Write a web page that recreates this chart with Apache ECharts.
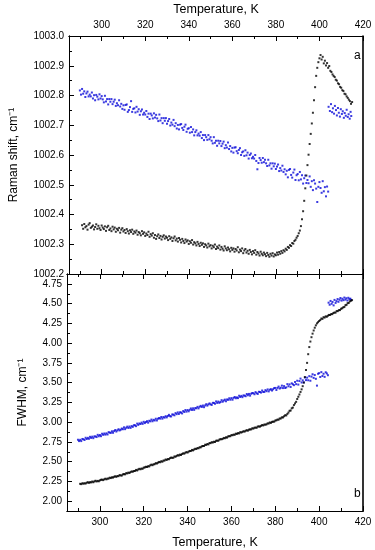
<!DOCTYPE html>
<html><head><meta charset="utf-8">
<script src="https://cdn.jsdelivr.net/npm/echarts@6/dist/echarts.min.js"></script>
<style>html,body{margin:0;padding:0;background:#fff}#c{width:375px;height:550px}</style>
</head><body><div id="c"></div>
<script>
// Temperature sampling (K) of each measured series
const tStep = 0.5;
const ramanBlackStart = 291;
const ramanBlueStart = 290;
const fwhmBlackStart = 291;
const fwhmBlueStart = 290;

// Raman shift (cm-1), black series, 291 ... 415 K (rows of 5 K)
const ramanBlack = [
/*291*/1002.364,1002.352,1002.368,1002.357,1002.361,1002.349,1002.366,1002.371,1002.355,1002.359,
/*296*/1002.363,1002.350,1002.358,1002.367,1002.352,1002.362,1002.354,1002.348,1002.363,1002.356,
/*301*/1002.351,1002.360,1002.345,1002.357,1002.362,1002.348,1002.353,1002.344,1002.359,1002.350,
/*306*/1002.356,1002.342,1002.352,1002.347,1002.355,1002.339,1002.349,1002.354,1002.343,1002.348,
/*311*/1002.338,1002.351,1002.344,1002.336,1002.347,1002.341,1002.349,1002.335,1002.343,1002.339,
/*316*/1002.346,1002.332,1002.341,1002.337,1002.330,1002.344,1002.335,1002.340,1002.328,1002.336,
/*321*/1002.331,1002.342,1002.325,1002.334,1002.329,1002.337,1002.322,1002.331,1002.318,1002.327,
/*326*/1002.333,1002.321,1002.328,1002.316,1002.325,1002.330,1002.319,1002.326,1002.322,1002.314,
/*331*/1002.327,1002.318,1002.323,1002.311,1002.320,1002.326,1002.313,1002.319,1002.309,1002.321,
/*336*/1002.315,1002.306,1002.318,1002.311,1002.304,1002.316,1002.309,1002.313,1002.301,1002.310,
/*341*/1002.305,1002.314,1002.299,1002.307,1002.303,1002.296,1002.308,1002.301,1002.294,1002.305,
/*346*/1002.298,1002.303,1002.291,1002.300,1002.296,1002.289,1002.302,1002.293,1002.297,1002.286,
/*351*/1002.295,1002.290,1002.299,1002.284,1002.292,1002.287,1002.296,1002.282,1002.291,1002.285,
/*356*/1002.279,1002.293,1002.286,1002.280,1002.289,1002.283,1002.276,1002.288,1002.281,1002.286,
/*361*/1002.275,1002.284,1002.279,1002.290,1002.273,1002.282,1002.277,1002.286,1002.270,1002.279,
/*366*/1002.284,1002.272,1002.278,1002.268,1002.281,1002.274,1002.266,1002.277,1002.271,1002.280,
/*371*/1002.265,1002.274,1002.269,1002.262,1002.275,1002.268,1002.263,1002.272,1002.266,1002.260,
/*376*/1002.271,1002.264,1002.258,1002.268,1002.262,1002.270,1002.259,1002.266,1002.263,1002.272,
/*381*/1002.265,1002.274,1002.268,1002.277,1002.271,1002.280,1002.276,1002.285,1002.281,1002.291,
/*386*/1002.288,1002.297,1002.294,1002.304,1002.302,1002.311,1002.315,1002.322,1002.328,1002.337,
/*391*/1002.346,1002.361,1002.384,1002.411,1002.446,1002.488,1002.531,1002.566,1002.601,1002.637,
/*396*/1002.671,1002.706,1002.742,1002.784,1002.828,1002.866,1002.893,1002.912,1002.925,1002.936,
/*401*/1002.921,1002.930,1002.908,1002.917,1002.901,1002.909,1002.893,1002.899,1002.883,1002.879,
/*406*/1002.871,1002.866,1002.862,1002.853,1002.850,1002.841,1002.838,1002.829,1002.826,1002.818,
/*411*/1002.815,1002.806,1002.804,1002.797,1002.792,1002.786,1002.781,1002.772,1002.778
];

// Raman shift (cm-1), blue series, 290 ... 404 K
const ramanBlue = [
/*290*/1002.817,1002.803,1002.822,1002.806,1002.814,1002.795,1002.807,1002.813,1002.797,1002.803,
/*295*/1002.797,1002.810,1002.790,1002.801,1002.784,1002.802,1002.796,1002.787,1002.804,1002.790,
/*300*/1002.798,1002.787,1002.777,1002.799,1002.780,1002.788,1002.770,1002.788,1002.779,1002.788,
/*305*/1002.771,1002.779,1002.786,1002.765,1002.774,1002.767,1002.784,1002.763,1002.772,1002.755,
/*310*/1002.767,1002.752,1002.768,1002.770,1002.745,1002.751,1002.761,1002.781,1002.745,1002.755,
/*315*/1002.757,1002.743,1002.762,1002.746,1002.754,1002.735,1002.747,1002.753,1002.736,1002.742,
/*320*/1002.736,1002.748,1002.728,1002.739,1002.721,1002.739,1002.733,1002.723,1002.740,1002.726,
/*325*/1002.735,1002.723,1002.714,1002.736,1002.716,1002.724,1002.707,1002.724,1002.715,1002.724,
/*330*/1002.705,1002.714,1002.721,1002.699,1002.709,1002.702,1002.718,1002.697,1002.707,1002.689,
/*335*/1002.701,1002.686,1002.702,1002.704,1002.691,1002.684,1002.695,1002.702,1002.678,1002.688,
/*340*/1002.690,1002.675,1002.694,1002.677,1002.686,1002.666,1002.677,1002.683,1002.666,1002.672,
/*345*/1002.665,1002.677,1002.657,1002.667,1002.650,1002.667,1002.660,1002.651,1002.667,1002.653,
/*350*/1002.660,1002.648,1002.639,1002.660,1002.641,1002.648,1002.631,1002.648,1002.639,1002.647,
/*355*/1002.630,1002.638,1002.645,1002.623,1002.633,1002.625,1002.642,1002.620,1002.630,1002.612,
/*360*/1002.624,1002.608,1002.625,1002.626,1002.613,1002.606,1002.617,1002.623,1002.600,1002.609,
/*365*/1002.612,1002.597,1002.616,1002.599,1002.608,1002.588,1002.600,1002.605,1002.589,1002.594,
/*370*/1002.588,1002.600,1002.580,1002.552,1002.573,1002.590,1002.583,1002.574,1002.590,1002.576,
/*375*/1002.584,1002.572,1002.563,1002.584,1002.565,1002.572,1002.554,1002.572,1002.562,1002.571,
/*380*/1002.553,1002.561,1002.568,1002.546,1002.556,1002.548,1002.564,1002.543,1002.552,1002.535,
/*385*/1002.547,1002.525,1002.550,1002.553,1002.533,1002.524,1002.541,1002.551,1002.516,1002.532,
/*390*/1002.536,1002.515,1002.543,1002.518,1002.532,1002.504,1002.522,1002.531,1002.506,1002.516,
/*395*/1002.505,1002.528,1002.493,1002.512,1002.482,1002.515,1002.504,1002.487,1002.442,1002.493,
/*400*/1002.509,1002.489,1002.473,1002.512,1002.478,1002.492,1002.461,1002.494,1002.477
];

// Raman shift, blue series above the transition: temperature and value
const ramanBlueHotT = [404.2,404.8,405.3,405.8,406.2,406.7,407.1,407.6,408.0,408.5,408.9,409.4,409.8,410.3,410.7,411.2,411.6,412.1,412.5,413.0,413.4,413.9,414.3,414.6];
const ramanBlueHotV = [1002.762,1002.748,1002.771,1002.744,1002.757,1002.739,1002.765,1002.751,1002.733,1002.758,1002.742,1002.729,1002.754,1002.738,1002.747,1002.725,1002.741,1002.732,1002.752,1002.728,1002.737,1002.722,1002.745,1002.731];

// FWHM (cm-1), black series, 291 ... 415 K
const fwhmBlack = [
/*291*/2.219,2.215,2.226,2.221,2.226,2.223,2.233,2.240,2.231,2.240,
/*296*/2.237,2.248,2.239,2.250,2.258,2.249,2.256,2.251,2.263,2.270,
/*301*/2.272,2.266,2.276,2.284,2.276,2.285,2.286,2.297,2.292,2.302,
/*306*/2.298,2.308,2.315,2.307,2.318,2.316,2.330,2.325,2.324,2.339,
/*311*/2.342,2.339,2.354,2.351,2.361,2.356,2.368,2.376,2.372,2.381,
/*316*/2.382,2.395,2.388,2.401,2.409,2.403,2.412,2.410,2.424,2.427,
/*321*/2.435,2.432,2.442,2.439,2.454,2.462,2.455,2.466,2.468,2.481,
/*326*/2.476,2.487,2.496,2.492,2.505,2.499,2.513,2.514,2.527,2.521,
/*331*/2.533,2.530,2.544,2.551,2.548,2.549,2.565,2.562,2.572,2.582,
/*336*/2.577,2.589,2.584,2.597,2.605,2.601,2.613,2.621,2.615,2.627,
/*341*/2.635,2.634,2.648,2.642,2.654,2.663,2.660,2.672,2.669,2.682,
/*346*/2.681,2.694,2.698,2.698,2.714,2.711,2.723,2.718,2.735,2.734,
/*351*/2.746,2.742,2.752,2.750,2.764,2.766,2.764,2.778,2.785,2.783,
/*356*/2.788,2.800,2.796,2.808,2.804,2.819,2.822,2.822,2.836,2.834,
/*361*/2.842,2.840,2.854,2.851,2.861,2.857,2.873,2.868,2.876,2.885,
/*366*/2.880,2.891,2.898,2.892,2.905,2.908,2.908,2.922,2.918,2.929,
/*371*/2.931,2.929,2.944,2.946,2.943,2.953,2.963,2.958,2.969,2.968,
/*376*/2.972,2.984,2.983,2.996,2.990,3.003,3.006,3.006,3.020,3.023,
/*381*/3.032,3.031,3.046,3.046,3.061,3.059,3.074,3.087,3.085,3.104,
/*386*/3.121,3.143,3.147,3.175,3.184,3.216,3.237,3.257,3.293,3.321,
/*391*/3.350,3.382,3.415,3.455,3.500,3.570,3.660,3.750,3.860,3.950,
/*396*/4.020,4.075,4.120,4.160,4.195,4.225,4.250,4.265,4.280,4.292,
/*401*/4.311,4.307,4.328,4.324,4.339,4.334,4.347,4.357,4.356,4.368,
/*406*/4.367,4.381,4.387,4.387,4.406,4.405,4.418,4.418,4.435,4.441,
/*411*/4.453,4.458,4.480,4.485,4.506,4.509,4.529,4.537,4.544
];

// FWHM (cm-1), blue series, 290 ... 404 K
const fwhmBlue = [
/*290*/2.777,2.760,2.776,2.760,2.787,2.783,2.774,2.802,2.786,2.801,
/*295*/2.789,2.814,2.800,2.816,2.797,2.819,2.819,2.811,2.839,2.821,
/*300*/2.837,2.822,2.853,2.839,2.856,2.842,2.858,2.844,2.873,2.867,
/*305*/2.864,2.884,2.865,2.887,2.900,2.881,2.896,2.910,2.895,2.904,
/*310*/2.919,2.910,2.934,2.911,2.929,2.943,2.926,2.944,2.927,2.950,
/*315*/2.940,2.961,2.960,2.949,2.981,2.965,2.983,2.976,2.994,2.978,
/*320*/3.004,2.988,3.001,3.012,2.993,3.017,3.010,3.032,3.011,3.029,
/*325*/3.021,3.043,3.021,3.043,3.052,3.044,3.065,3.044,3.064,3.057,
/*330*/3.075,3.060,3.078,3.092,3.075,3.072,3.097,3.095,3.086,3.114,
/*335*/3.101,3.123,3.103,3.124,3.122,3.110,3.140,3.128,3.153,3.133,
/*340*/3.153,3.137,3.156,3.173,3.154,3.175,3.155,3.178,3.175,3.193,
/*345*/3.174,3.195,3.206,3.192,3.210,3.189,3.211,3.227,3.209,3.225,
/*350*/3.237,3.225,3.218,3.244,3.243,3.232,3.262,3.243,3.260,3.244,
/*355*/3.255,3.278,3.258,3.273,3.285,3.264,3.287,3.282,3.302,3.284,
/*360*/3.304,3.284,3.307,3.318,3.302,3.313,3.304,3.334,3.318,3.332,
/*365*/3.316,3.338,3.335,3.328,3.356,3.340,3.357,3.335,3.359,3.369,
/*370*/3.366,3.353,3.380,3.366,3.357,3.384,3.381,3.374,3.400,3.382,
/*375*/3.382,3.405,3.392,3.414,3.389,3.410,3.417,3.400,3.416,3.431,
/*380*/3.433,3.407,3.433,3.450,3.425,3.435,3.462,3.431,3.456,3.432,
/*385*/3.440,3.481,3.454,3.478,3.445,3.491,3.479,3.468,3.508,3.481,
/*390*/3.524,3.475,3.520,3.551,3.502,3.529,3.504,3.565,3.532,3.563,
/*395*/3.530,3.582,3.524,3.576,3.606,3.560,3.596,3.548,3.462,3.612,
/*400*/3.620,3.571,3.633,3.584,3.612,3.573,3.631,3.616,3.594
];

// FWHM, blue series above the transition
const fwhmBlueHotT = [404.3,404.8,405.2,405.7,406.1,406.6,407.0,407.5,407.9,408.4,408.8,409.3,409.7,410.2,410.6,411.1,411.5,412.0,412.4,412.9,413.3,413.8,414.2,414.6];
const fwhmBlueHotV = [4.512,4.486,4.534,4.498,4.521,4.478,4.547,4.509,4.532,4.558,4.523,4.549,4.571,4.538,4.562,4.544,4.577,4.551,4.568,4.539,4.574,4.556,4.563,4.548];

// Tick values
const xMajorTicks = [300,320,340,360,380,400,420];
const xMinorTicks = [290,310,330,350,370,390,410];
const ramanMajorTicks = [1002.2,1002.3,1002.4,1002.5,1002.6,1002.7,1002.8,1002.9,1003.0];
const ramanMinorTicks = [1002.25,1002.35,1002.45,1002.55,1002.65,1002.75,1002.85,1002.95];
const fwhmMajorTicks = [2.00,2.25,2.50,2.75,3.00,3.25,3.50,3.75,4.00,4.25,4.50,4.75];
const fwhmMinorTicks = [2.125,2.375,2.625,2.875,3.125,3.375,3.625,3.875,4.125,4.375,4.625];

const BLACK = '#000000', BLUE = '#0a0ad8';
const FONT = '"Liberation Sans", Arial, sans-serif';

function seq(start, vals) { return vals.map((v, i) => [start + i * tStep, v]); }
function zip(ts, vs) { return ts.map((t, i) => [t, vs[i]]); }

function xAx(grid, pos, ticks, len, extra) {
  return Object.assign({
    type: 'value', gridIndex: grid, position: pos, min: 285, max: 420,
    axisLine: { show: true, onZero: false, lineStyle: { color: '#000', width: 1 } },
    axisTick: { show: true, inside: true, length: len, customValues: ticks, lineStyle: { color: '#000', width: 1 } },
    axisLabel: { show: false },
    splitLine: { show: false }
  }, extra || {});
}
function yAx(grid, pos, min, max, ticks, len, extra) {
  return Object.assign({
    type: 'value', gridIndex: grid, position: pos, min: min, max: max,
    axisLine: { show: true, onZero: false, lineStyle: { color: '#000', width: pos === 'right' ? 1.6 : 1 } },
    axisTick: ticks ? { show: true, inside: true, length: len, customValues: ticks, lineStyle: { color: '#000', width: 1 } } : { show: false },
    axisLabel: { show: false },
    splitLine: { show: false }
  }, extra || {});
}
const lbl = (vals, fmt, margin) => ({ show: true, customValues: vals, formatter: fmt, margin: margin, fontSize: 10, color: '#000', fontFamily: FONT });
const nameStyle = { fontSize: 12.5, color: '#000', fontFamily: FONT };

const chart = echarts.init(document.getElementById('c'), null, { renderer: 'canvas' });
chart.setOption({
  animation: false,
  backgroundColor: '#fff',
  grid: [
    { left: 67, top: 36, width: 296, height: 238 },
    { left: 67, top: 274, width: 296, height: 238 }
  ],
  title: [
    { text: 'a', left: 349, top: 45, textStyle: { fontSize: 12, fontWeight: 'normal', color: '#000', fontFamily: FONT } },
    { text: 'b', left: 349, top: 483, textStyle: { fontSize: 12, fontWeight: 'normal', color: '#000', fontFamily: FONT } }
  ],
  xAxis: [
    xAx(0, 'top', xMajorTicks, 5, { axisLabel: lbl(xMajorTicks, v => String(v), 6), name: 'Temperature, K', nameLocation: 'middle', nameGap: 20, nameTextStyle: nameStyle }),
    xAx(0, 'top', xMinorTicks, 3),
    xAx(0, 'bottom', xMajorTicks, 5),
    xAx(0, 'bottom', xMinorTicks, 3),
    xAx(1, 'top', xMajorTicks, 5),
    xAx(1, 'top', xMinorTicks, 3),
    xAx(1, 'bottom', xMajorTicks, 5, { axisLabel: lbl(xMajorTicks, v => String(v), 6), name: 'Temperature, K', nameLocation: 'middle', nameGap: 25, nameTextStyle: nameStyle }),
    xAx(1, 'bottom', xMinorTicks, 3)
  ],
  yAxis: [
    yAx(0, 'left', 1002.2, 1003.0, ramanMajorTicks, 5, { axisLabel: lbl(ramanMajorTicks, v => v.toFixed(1), 5), name: 'Raman shift, cm\u207B\u00B9', nameLocation: 'middle', nameRotate: 90, nameGap: 49, nameTextStyle: Object.assign({}, nameStyle, { fontSize: 12 }) }),
    yAx(0, 'left', 1002.2, 1003.0, ramanMinorTicks, 3),
    yAx(0, 'right', 1002.2, 1003.0, null, 0),
    yAx(1, 'left', 1.875, 4.875, fwhmMajorTicks, 5, { axisLabel: lbl(fwhmMajorTicks, v => v.toFixed(2), 5), name: 'FWHM, cm\u207B\u00B9', nameLocation: 'middle', nameRotate: 90, nameGap: 38, nameTextStyle: Object.assign({}, nameStyle, { fontSize: 12 }) }),
    yAx(1, 'left', 1.875, 4.875, fwhmMinorTicks, 3),
    yAx(1, 'right', 1.875, 4.875, null, 0)
  ],
  series: [
    { type: 'scatter', xAxisIndex: 0, yAxisIndex: 0, data: seq(ramanBlueStart, ramanBlue), symbol: 'rect', symbolSize: 2, itemStyle: { color: BLUE } },
    { type: 'scatter', xAxisIndex: 0, yAxisIndex: 0, data: zip(ramanBlueHotT, ramanBlueHotV), symbol: 'rect', symbolSize: 2, itemStyle: { color: BLUE } },
    { type: 'scatter', xAxisIndex: 0, yAxisIndex: 0, data: seq(ramanBlackStart, ramanBlack), symbol: 'rect', symbolSize: 2, itemStyle: { color: BLACK } },
    { type: 'scatter', xAxisIndex: 6, yAxisIndex: 3, data: seq(fwhmBlueStart, fwhmBlue), symbol: 'rect', symbolSize: 2, itemStyle: { color: BLUE } },
    { type: 'scatter', xAxisIndex: 6, yAxisIndex: 3, data: zip(fwhmBlueHotT, fwhmBlueHotV), symbol: 'rect', symbolSize: 2, itemStyle: { color: BLUE } },
    { type: 'scatter', xAxisIndex: 6, yAxisIndex: 3, data: seq(fwhmBlackStart, fwhmBlack), symbol: 'rect', symbolSize: 2, itemStyle: { color: BLACK } }
  ]
});
</script>
</body></html>
